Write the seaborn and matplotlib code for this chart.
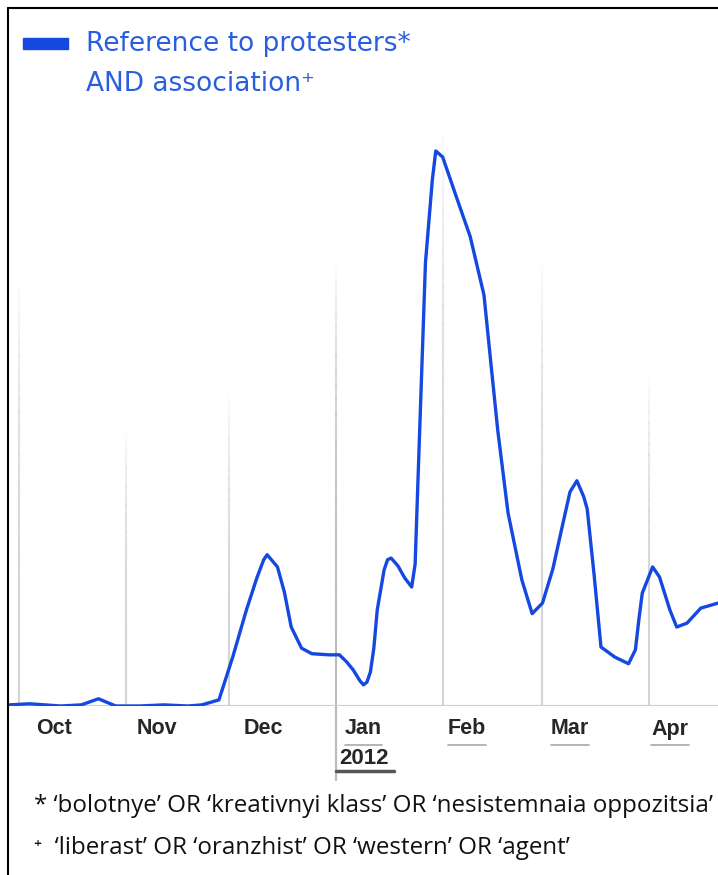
import pandas as pd
import seaborn as sns
import matplotlib.pyplot as plt
from matplotlib.lines import Line2D
from matplotlib.patches import Rectangle

# readings of the search interest curve (peak = 100)
dates = ['2011-09-28', '2011-10-04', '2011-10-13', '2011-10-19', '2011-10-24', '2011-10-29',
         '2011-11-05', '2011-11-12', '2011-11-19', '2011-11-23', '2011-11-28',
         '2011-12-02', '2011-12-06', '2011-12-09', '2011-12-11', '2011-12-12', '2011-12-15',
         '2011-12-17', '2011-12-19', '2011-12-22', '2011-12-25', '2011-12-30',
         '2012-01-02', '2012-01-04', '2012-01-06', '2012-01-08', '2012-01-09', '2012-01-10',
         '2012-01-11', '2012-01-12', '2012-01-13', '2012-01-14', '2012-01-15', '2012-01-16',
         '2012-01-17', '2012-01-19', '2012-01-21', '2012-01-23', '2012-01-24', '2012-01-25',
         '2012-01-26', '2012-01-27', '2012-01-29', '2012-01-30', '2012-02-01', '2012-02-03',
         '2012-02-05', '2012-02-09', '2012-02-13', '2012-02-15', '2012-02-17', '2012-02-20',
         '2012-02-24', '2012-02-27', '2012-03-01', '2012-03-04', '2012-03-07', '2012-03-09',
         '2012-03-11', '2012-03-13', '2012-03-14', '2012-03-16', '2012-03-18', '2012-03-22',
         '2012-03-26', '2012-03-28', '2012-03-29', '2012-03-30', '2012-04-02', '2012-04-04',
         '2012-04-07', '2012-04-09', '2012-04-12', '2012-04-16', '2012-04-21']
values = [0.2, 0.4, 0.0, 0.2, 1.3, 0.0,
          0.0, 0.2, 0.0, 0.2, 1.1,
          8.8, 17.3, 23.0, 26.3, 27.2, 25.0,
          20.5, 14.2, 10.4, 9.4, 9.2,
          9.2, 8.0, 6.5, 4.5, 3.8, 4.3,
          6.1, 10.4, 17.3, 20.9, 24.5, 26.3,
          26.6, 25.2, 23.0, 21.4, 25.5, 43.7,
          61.7, 79.7, 94.6, 99.8, 98.7, 95.1,
          91.5, 84.4, 73.9, 61.7, 49.6, 34.7,
          22.7, 16.6, 18.5, 24.6, 33.0, 38.5,
          40.5, 37.6, 35.4, 23.6, 10.6, 8.8,
          7.6, 10.1, 15.5, 20.3, 25.0, 23.2,
          17.3, 14.2, 14.9, 17.6, 18.5]

month_starts = ['2011-10-01', '2011-11-01', '2011-12-01', '2012-01-01',
                '2012-02-01', '2012-03-01', '2012-04-01']
month_labels = ['Oct', 'Nov', 'Dec', 'Jan', 'Feb', 'Mar', 'Apr']
label_offsets = [10, 9, 10, 8, 7, 8, 6]  # days after month start
year_label = '2012'

legend_lines = ['Reference to protesters*', 'AND association\u207a']
footnotes = ["* \u2018bolotnye\u2019 OR \u2018kreativnyi klass\u2019 OR \u2018nesistemnaia oppozitsia\u2019",
             "\u207a  \u2018liberast\u2019 OR \u2018oranzhist\u2019 OR \u2018western\u2019 OR \u2018agent\u2019"]

LINE_BLUE = '#1448e0'
TEXT_BLUE = '#2a5ee0'
TICK_FONT = ['Liberation Sans', 'DejaVu Sans']


def main():
    df = pd.DataFrame({'date': pd.to_datetime(dates), 'value': values})
    starts = pd.to_datetime(month_starts)

    sns.set_style('white')
    plt.rcParams['font.family'] = ['DejaVu Sans']

    W, H = 718, 875
    fig = plt.figure(figsize=(W / 100, H / 100), dpi=100)
    ax = fig.add_axes([9 / W, (H - 706) / H, 1 - 9 / W, (706 - 122) / H])

    # fading vertical gridlines at month starts
    nseg = 30
    tops = [0.72, 0.47, 0.53, 0.75, 0.98, 0.76, 0.56]
    for i, d in enumerate(starts):
        col = '#bcbcbc' if i == 3 else '#d4d4d4'
        for k in range(nseg):
            y0 = tops[i] * k / nseg
            y1 = tops[i] * (k + 1) / nseg
            ax.axvline(d, ymin=y0, ymax=y1, color=col, lw=1.5,
                       alpha=max(0.0, 1 - (k / nseg) ** 2.5), zorder=1)
    # Jan line runs down into the labels
    ax.axvline(starts[3], ymin=-0.127, ymax=0, color='#bcbcbc', lw=1.6, clip_on=False)

    sns.lineplot(data=df, x='date', y='value', ax=ax, color=LINE_BLUE, lw=2.4,
                 solid_joinstyle='round', solid_capstyle='round', zorder=3)

    ax.set_xlim(pd.Timestamp('2011-09-28'), pd.Timestamp('2012-04-21'))
    ax.set_ylim(0, 105)
    ax.axhline(0, color='#cfcfcf', lw=1.6, zorder=2)
    for s in ax.spines.values():
        s.set_visible(False)
    ax.set_yticks([])
    ax.set_xlabel('')
    ax.set_ylabel('')

    ticks = [d + pd.Timedelta(days=o) for d, o in zip(starts, label_offsets)]
    ax.set_xticks(ticks)
    ax.set_xticklabels(month_labels, fontsize=15.5, fontweight='bold', family=TICK_FONT)
    ax.tick_params(axis='x', length=0, pad=9)

    # underlines under Jan..Apr and the year label
    trans = ax.get_xaxis_transform()
    for i in range(3, 7):
        ax.plot([ticks[i] - pd.Timedelta(days=5.5), ticks[i] + pd.Timedelta(days=5.5)],
                [-0.067, -0.067], transform=trans, color='#a8a8a8', lw=1.2,
                clip_on=False)
    ax.text(ticks[3], -0.09, year_label, transform=trans, ha='center', va='center',
            fontsize=16, fontweight='bold', family=TICK_FONT)
    ax.plot([ticks[3] - pd.Timedelta(days=8), ticks[3] + pd.Timedelta(days=9)],
            [-0.112, -0.112], transform=trans, color='#555555', lw=2.5, clip_on=False)

    # legend
    fig.patches.append(Rectangle((23 / W, 1 - 49 / H), 45 / W, 11 / H,
                                 transform=fig.transFigure, color=LINE_BLUE))
    fig.text(86 / W, 1 - 44 / H, legend_lines[0], color=TEXT_BLUE, fontsize=19, va='center')
    fig.text(86 / W, 1 - 84 / H, legend_lines[1], color=TEXT_BLUE, fontsize=19, va='center')

    # footnotes
    fig.text(34 / W, 1 - 806 / H, footnotes[0], fontsize=17.4, va='center', color='#111111',
             family=['Open Sans', 'DejaVu Sans'])
    fig.text(34 / W, 1 - 848 / H, footnotes[1], fontsize=17.4, va='center', color='#111111',
             family=['Open Sans', 'DejaVu Sans'])

    # outer frame
    fig.lines.append(Line2D([8 / W, 8 / W], [0, 1 - 8 / H], transform=fig.transFigure,
                            color='black', lw=1.5))
    fig.lines.append(Line2D([8 / W, 1], [1 - 8 / H, 1 - 8 / H], transform=fig.transFigure,
                            color='black', lw=1.5))

    fig.savefig('out.png', dpi=100, facecolor='white')


if __name__ == '__main__':
    main()
